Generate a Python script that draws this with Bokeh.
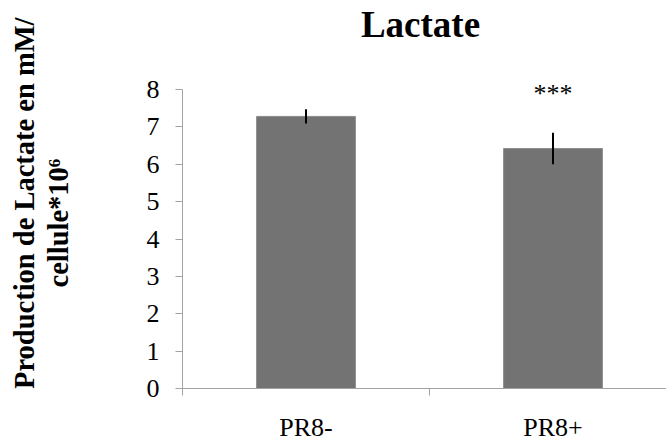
import math

from bokeh.core.properties import value
from bokeh.embed import file_html
from bokeh.layouts import row
from bokeh.models import ColumnDataSource, FixedTicker, Range1d
from bokeh.plotting import figure
from bokeh.resources import INLINE

# Lactate production per 10^6 cells, with/without PR8
categories = ["PR8-", "PR8+"]
means = [7.28, 6.42]
errors = [0.19, 0.42]
significance = ["", "***"]
y_ticks = [0, 1, 2, 3, 4, 5, 6, 7, 8]
title = "Lactate"
y_title = ["Production de Lactate en mM/", "cellule*10\u2076"]

SERIF = "Liberation Serif"
AXIS_GREY = "#a3a3a3"
BAR_GREY = "#737373"

W, H = 666, 446
STRIP = 80                # narrow panel holding the vertical axis title
LEFT, BOTTOM = 182, 58    # frame edges measured from the page's left / bottom
CAT_PX = 247              # pixel width of one category slot
UNIT_PX = 37.375          # pixels per unit on the value axis

x_pos = [i + 0.5 for i in range(len(categories))]
x_end = (W - LEFT) / CAT_PX
y_end = (H - BOTTOM) / UNIT_PX      # frame reaches the top edge; title lives inside it


def px_to_x(px):
    return (px - LEFT) / CAT_PX


def px_to_y(py):
    return (H - BOTTOM - py) / UNIT_PX


src = ColumnDataSource(dict(
    x=x_pos,
    top=means,
    lo=[m - e for m, e in zip(means, errors)],
    hi=[m + e for m, e in zip(means, errors)],
    sig=significance,
    sig_y=[m + e + 1.06 for m, e in zip(means, errors)],
))

p = figure(
    width=W - STRIP, height=H, title=None,
    x_range=Range1d(0, x_end), y_range=Range1d(0, y_end),
    output_backend="svg", toolbar_location=None,
    min_border_left=LEFT - STRIP, min_border_right=0,
    min_border_top=0, min_border_bottom=BOTTOM,
    outline_line_color=None, background_fill_color="white",
    border_fill_color="white",
)
p.grid.visible = False

p.vbar(x="x", top="top", bottom=0, width=0.4, source=src,
       fill_color=BAR_GREY, line_color="#8c8c8c", line_width=1)
p.segment(x0="x", x1="x", y0="lo", y1="hi", source=src,
          line_color="black", line_width=2)
p.text(x="x", y="sig_y", text="sig", source=src,
       text_font=value(SERIF), text_font_size="26px",
       text_align="center", text_baseline="alphabetic", text_color="black")

# chart title, centred over the plotting area
p.text(x=[px_to_x(420)], y=[px_to_y(24)], text=[title],
       text_font=value(SERIF), text_font_size="37px", text_font_style="bold",
       text_align="center", text_baseline="alphabetic", text_color="black")

# x axis: boundaries between categories carry the tick marks,
# category names sit in the middle of each slot
xa = p.xaxis[0]
xa.ticker = FixedTicker(ticks=x_pos, minor_ticks=[0, 1, 2])
xa.major_label_overrides = {x: c for x, c in zip(x_pos, categories)}
xa.major_tick_out = 0
xa.major_tick_in = 0
xa.minor_tick_out = 7
xa.minor_tick_in = 0
xa.minor_tick_line_color = AXIS_GREY
xa.axis_line_color = AXIS_GREY
xa.major_label_text_font = SERIF
xa.major_label_text_font_size = "26px"
xa.major_label_text_color = "black"
xa.major_label_standoff = 17

ya = p.yaxis[0]
ya.ticker = FixedTicker(ticks=y_ticks)
ya.bounds = (0, 8)
ya.major_tick_out = 7
ya.major_tick_in = 0
ya.minor_tick_line_color = None
ya.major_tick_line_color = AXIS_GREY
ya.axis_line_color = AXIS_GREY
ya.major_label_text_font = SERIF
ya.major_label_text_font_size = "26px"
ya.major_label_text_color = "black"
ya.major_label_standoff = 16

# vertical axis title, two lines reading bottom to top, each anchored where
# its text starts; the strip's frame is aligned with the main plot's frame,
# so its y range runs over the same pixel rows (page y = H - data y)
strip = figure(
    width=STRIP, height=H, title=None,
    x_range=Range1d(0, STRIP), y_range=Range1d(BOTTOM, H),
    x_axis_location=None, y_axis_location=None,
    output_backend="svg", toolbar_location=None,
    min_border=0, outline_line_color=None,
    background_fill_color="white", border_fill_color="white",
)
strip.grid.visible = False
strip.text(x=[24, 58], y=[H - 388.5, H - 287], text=y_title, angle=math.pi / 2,
           text_font=value(SERIF), text_font_size="28.5px", text_font_style="bold",
           text_align="left", text_baseline="middle", text_color="black")

layout = row(strip, p, spacing=0)
open("out.html", "w").write(file_html(layout, INLINE))
